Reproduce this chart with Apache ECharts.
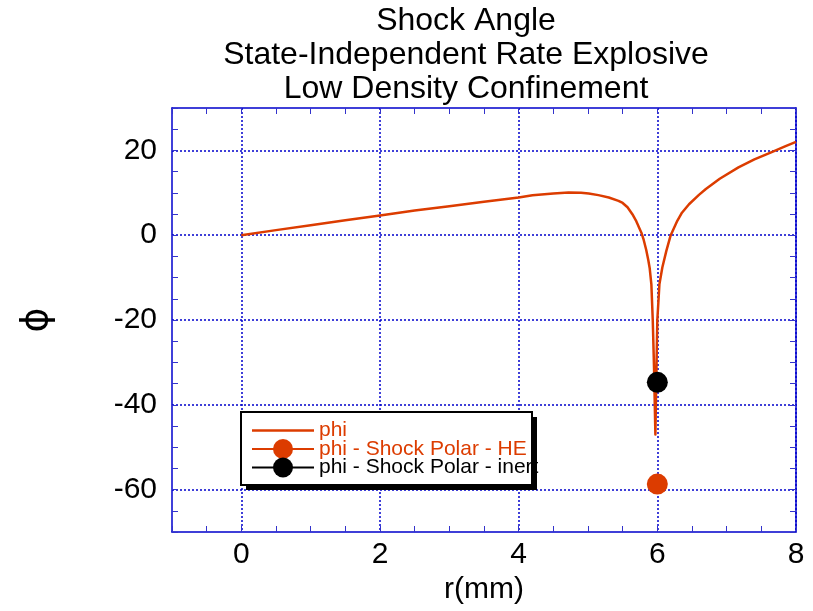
<!DOCTYPE html>
<html>
<head>
<meta charset="utf-8">
<script src="https://cdn.jsdelivr.net/npm/echarts@6/dist/echarts.min.js"></script>
<style>
html,body{margin:0;padding:0;background:#fff;}
#chart{width:813px;height:611px;}
</style>
</head>
<body>
<div id="chart"></div>
<script>
var titleLines = ['Shock Angle', 'State-Independent Rate Explosive', 'Low Density Confinement'];
var xName = 'r(mm)';
var yName = '\u03D5';
var seriesNames = ['phi', 'phi - Shock Polar - HE', 'phi - Shock Polar - inert'];

var rValues = [0, 0.5, 1, 1.5, 2, 2.5, 3, 3.5, 4, 4.2, 4.5, 4.72, 4.9, 5.01, 5.15, 5.3, 5.44, 5.5, 5.57, 5.64, 5.69, 5.736, 5.77, 5.8, 5.84, 5.87, 5.89, 5.914, 5.934, 5.952, 5.972, 5.988, 6.0, 6.03, 6.072, 6.13, 6.193, 6.288, 6.355, 6.457, 6.6, 6.7, 6.9, 7.17, 7.4, 7.65, 7.85, 8.0];
var phiValues = [0, 1.2, 2.35, 3.5, 4.65, 5.8, 6.85, 7.9, 8.9, 9.4, 9.85, 10.07, 10.0, 9.83, 9.45, 8.9, 8.1, 7.6, 6.6, 4.95, 3.5, 1.8, 0.6, -0.9, -3.5, -5.9, -7.8, -11.6, -20, -31, -47, -31, -20, -11.6, -7.6, -3.7, 0, 3.4, 5.3, 7.3, 9.5, 10.9, 13.3, 16.0, 17.9, 19.6, 21.0, 22.0];

var heR = [6.0];
var hePhi = [-58.7];
var inertR = [6.0];
var inertPhi = [-34.7];

var xTickLabels = [0, 2, 4, 6, 8];
var yTickLabels = [-60, -40, -20, 0, 20];

function pairs(xs, ys) { return xs.map(function (x, i) { return [x, ys[i]]; }); }

var ORANGE = '#dc3c00';
var BLUE = '#0000cc';
var FONT = 'Liberation Sans, Arial, Helvetica, sans-serif';

var chart = echarts.init(document.getElementById('chart'), null, {renderer: 'canvas'});

function axisCommon(extra) {
  var base = {
    type: 'value',
    axisLine: {show: true, onZero: false, lineStyle: {color: BLUE, width: 1.5}},
    axisTick: {show: true, inside: true, length: 6, lineStyle: {color: '#3333cc', width: 1}},
    minorTick: {show: true, splitNumber: 2, length: 6, lineStyle: {color: '#3333cc', width: 1}},
    splitLine: {show: false},
    axisLabel: {show: false}
  };
  return Object.assign(base, extra);
}

var option = {
  animation: false,
  backgroundColor: '#fff',
  textStyle: {fontFamily: FONT},
  grid: {left: 172, right: 17, top: 108, bottom: 79, containLabel: false},
  xAxis: [
    axisCommon({
      min: -1, max: 8, interval: 1, position: 'bottom',
      name: xName, nameLocation: 'middle', nameGap: 42,
      nameTextStyle: {fontSize: 30, color: '#000', fontFamily: FONT},
      axisLabel: {
        show: true, fontSize: 30, color: '#000', margin: 8, fontFamily: FONT,
        formatter: function (v) { return xTickLabels.indexOf(v) >= 0 ? String(v) : ''; }
      },
      splitLine: {show: true, lineStyle: {color: ['transparent', BLUE], type: [2, 2], width: 1.5}}
    }),
    axisCommon({min: -1, max: 8, interval: 1, position: 'top'})
  ],
  yAxis: [
    axisCommon({
      min: -70, max: 30, interval: 10, position: 'left',
      name: yName, nameLocation: 'middle', nameGap: 116,
      nameTextStyle: {fontSize: 38, color: '#000', fontFamily: 'DejaVu Sans'},
      axisLabel: {
        show: true, fontSize: 30, color: '#000', margin: 15, fontFamily: FONT,
        formatter: function (v) { return yTickLabels.indexOf(v) >= 0 ? String(v) : ''; }
      },
      splitLine: {show: true, lineStyle: {color: ['transparent', BLUE], type: [2, 2], width: 1.5}}
    }),
    axisCommon({min: -70, max: 30, interval: 10, position: 'right'})
  ],
  legend: {
    orient: 'vertical',
    left: 251, top: 420,
    padding: 0,
    itemWidth: 62, itemHeight: 25, itemGap: -2.5,
    z: 20,
    textStyle: {fontSize: 21, lineHeight: 19, fontFamily: FONT},
    data: [
      {name: seriesNames[0], icon: 'path://M0,0 L60,0 L60,2.5 L0,2.5 Z', itemStyle: {color: ORANGE}, textStyle: {color: ORANGE}},
      {name: seriesNames[1], textStyle: {color: ORANGE}},
      {name: seriesNames[2], textStyle: {color: '#000'}}
    ]
  },
  graphic: [
    {type: 'rect', z: 10, shape: {x: 246, y: 417, width: 291, height: 73}, style: {fill: '#000'}},
    {type: 'rect', z: 11, shape: {x: 241, y: 412, width: 291, height: 73}, style: {fill: '#fff', stroke: '#000', lineWidth: 2}},
    {type: 'text', z: 5, style: {text: titleLines.join('\n'), x: 466, y: 4, align: 'center', verticalAlign: 'top', fontSize: 32, lineHeight: 34, fontFamily: FONT, fill: '#000'}}
  ],
  series: [
    {
      name: seriesNames[0], type: 'line', xAxisIndex: 0, yAxisIndex: 0,
      data: pairs(rValues, phiValues), showSymbol: false, symbol: 'none',
      lineStyle: {color: ORANGE, width: 2.5, join: 'round'}, itemStyle: {color: ORANGE}, z: 3
    },
    {
      name: seriesNames[1], type: 'line', xAxisIndex: 0, yAxisIndex: 0,
      data: pairs(heR, hePhi), symbol: 'circle', symbolSize: 21, showSymbol: true,
      lineStyle: {color: ORANGE, width: 2.5}, itemStyle: {color: ORANGE}, z: 4
    },
    {
      name: seriesNames[2], type: 'line', xAxisIndex: 0, yAxisIndex: 0,
      data: pairs(inertR, inertPhi), symbol: 'circle', symbolSize: 21, showSymbol: true,
      lineStyle: {color: '#000', width: 2.5}, itemStyle: {color: '#000'}, z: 5
    }
  ]
};
chart.setOption(option);
</script>
</body>
</html>
